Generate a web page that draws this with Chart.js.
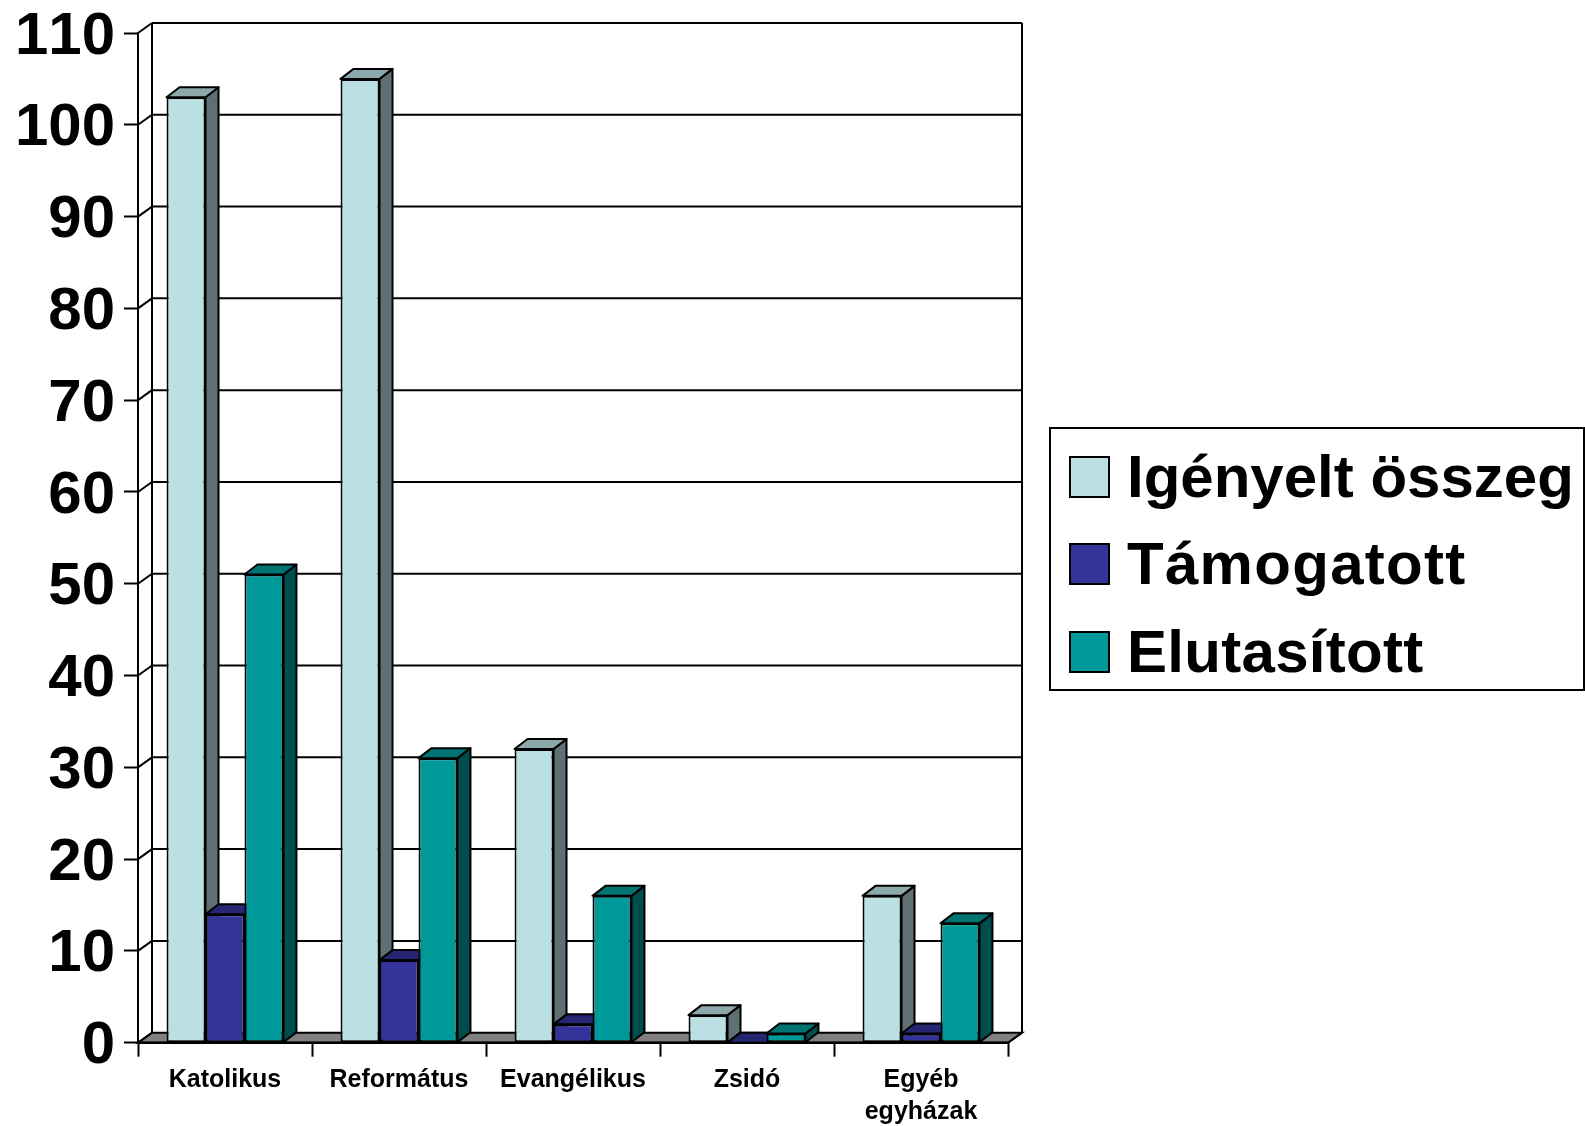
<!DOCTYPE html>
<html>
<head>
<meta charset="utf-8">
<title>Egyházi támogatások</title>
<script src="https://cdn.jsdelivr.net/npm/chart.js@4"></script>
<style>
	body { margin: 0; background: #FFFFFF; }
	canvas { display: block; }
</style>
</head>
<body>
<canvas id="chart" width="1585" height="1126"></canvas>
<script>
const categories = ["Katolikus", "Református", "Evangélikus", "Zsidó", ["Egyéb", "egyházak"]];
const seriesNames = ["Igényelt összeg", "Támogatott", "Elutasított"];
const igenyelt = [103, 105, 32, 3, 16];
const tamogatott = [14, 9, 2, 0, 1];
const elutasitott = [51, 31, 16, 1, 13];

const frontColors = ["#BBE0E3", "#333399", "#009999"];
const topColors = ["#8CA8AA", "#262673", "#007373"];
const sideColors = ["#5E7072", "#1A1A4D", "#004D4D"];

const FONT = "'Liberation Sans', Arial, sans-serif";
const wallDx = 14, wallDy = 10;
const barDx = 13, barDy = 10;

function polygon(ctx, points, fill)
{
	ctx.beginPath();
	points.forEach((p, i) => i === 0 ? ctx.moveTo(p[0], p[1]) : ctx.lineTo(p[0], p[1]));
	ctx.closePath();
	if (fill)
	{
		ctx.fillStyle = fill;
		ctx.fill();
	}
	ctx.stroke();
}

function line(ctx, x1, y1, x2, y2, width)
{
	ctx.lineWidth = width;
	ctx.beginPath();
	ctx.moveTo(x1, y1);
	ctx.lineTo(x2, y2);
	ctx.stroke();
}

// the reference has no kerning in its labels
const noKerning = {
	id: "noKerning",
	beforeDraw(chart)
	{
		chart.ctx.fontKerning = "none";
	}
};

// back wall, left wall and floor, placed from the scales
const walls = {
	id: "walls",
	beforeDatasetsDraw(chart)
	{
		const ctx = chart.ctx;
		const { left, right, top, bottom } = chart.chartArea;
		const yScale = chart.scales.y;
		ctx.save();
		ctx.strokeStyle = "#000000";
		ctx.lineWidth = 2;
		polygon(ctx, [[left, bottom], [right, bottom], [right + wallDx, bottom - wallDy], [left + wallDx, bottom - wallDy]], "#808080");
		yScale.ticks.forEach(tick =>
		{
			const y = yScale.getPixelForValue(tick.value);
			line(ctx, left, y, left + wallDx, y - wallDy, 2);
			if (tick.value > 0)
				line(ctx, left + wallDx, y - wallDy, right + wallDx, y - wallDy, 2);
		});
		line(ctx, left + wallDx, top - wallDy, left + wallDx, bottom - wallDy, 2);
		line(ctx, right + wallDx, top - wallDy, right + wallDx, bottom - wallDy, 2);
		line(ctx, right, bottom, right + wallDx, bottom - wallDy, 2);
		line(ctx, left, bottom, right, bottom, 2.5);
		ctx.restore();
	}
};

// top and side faces of the bars, left to right, under the fronts
const barDepth = {
	id: "barDepth",
	beforeDatasetsDraw(chart)
	{
		const ctx = chart.ctx;
		ctx.save();
		ctx.strokeStyle = "#000000";
		ctx.lineWidth = 2;
		ctx.lineJoin = "round";
		categories.forEach((c, index) =>
		{
			chart.data.datasets.forEach((ds, d) =>
			{
				const bar = chart.getDatasetMeta(d).data[index];
				const xl = bar.x - bar.width / 2;
				const xr = bar.x + bar.width / 2;
				polygon(ctx, [[xr, bar.y], [xr + barDx, bar.y - barDy], [xr + barDx, bar.base - barDy], [xr, bar.base]], sideColors[d]);
				polygon(ctx, [[xl, bar.y], [xl + barDx, bar.y - barDy], [xr + barDx, bar.y - barDy], [xr, bar.y]], topColors[d]);
			});
		});
		ctx.restore();
	}
};

const legendBox = {
	id: "legendBox",
	afterDraw(chart)
	{
		const ctx = chart.ctx;
		const rowTops = [457, 544, 632];
		const rowSpacing = ["0px", "1.3px", "0.3px"];
		ctx.save();
		ctx.strokeStyle = "#000000";
		ctx.lineWidth = 2;
		ctx.strokeRect(1050, 428, 534, 262);
		ctx.font = "bold 60px " + FONT;
		ctx.textBaseline = "alphabetic";
		ctx.textAlign = "left";
		seriesNames.forEach((name, i) =>
		{
			ctx.fillStyle = frontColors[i];
			ctx.fillRect(1070, rowTops[i], 39, 40);
			ctx.strokeRect(1070, rowTops[i], 39, 40);
			ctx.fillStyle = "#000000";
			ctx.letterSpacing = rowSpacing[i];
			ctx.fillText(name, 1127, rowTops[i] + 40);
		});
		ctx.restore();
	}
};

const seriesValues = [igenyelt, tamogatott, elutasitott];

new Chart(document.getElementById("chart"),
{
	type: "bar",
	data:
	{
		labels: categories,
		datasets: seriesNames.map((name, i) => ({
			label: name,
			data: seriesValues[i],
			backgroundColor: frontColors[i],
			borderColor: "#000000",
			borderWidth: 2,
			borderSkipped: false,
			categoryPercentage: 0.672,
			barPercentage: 1
		}))
	},
	plugins: [noKerning, walls, barDepth, legendBox],
	options:
	{
		responsive: false,
		animation: false,
		layout: { padding: { left: 0, top: 33, right: 577, bottom: 0 } },
		plugins:
		{
			legend: { display: false },
			tooltip: { enabled: false }
		},
		scales:
		{
			x:
			{
				afterFit: scale =>
				{
					scale.height = 83.3;
					scale.paddingLeft = 0;
					scale.paddingRight = 0;
				},
				grid: { drawOnChartArea: false, drawTicks: true, tickLength: 14, tickColor: "#000000", tickWidth: 2 },
				border: { display: false },
				ticks:
				{
					color: "#000000",
					maxRotation: 0,
					autoSkip: false,
					padding: 7,
					font: { family: FONT, size: 25, weight: "bold", lineHeight: 1.3 }
				}
			},
			y:
			{
				min: 0,
				max: 110,
				afterFit: scale =>
				{
					scale.width = 138;
					scale.paddingTop = 0;
					scale.paddingBottom = 0;
				},
				grid: { drawOnChartArea: false, drawTicks: true, tickLength: 14, tickColor: "#000000", tickWidth: 2 },
				border: { color: "#000000", width: 2 },
				ticks:
				{
					stepSize: 10,
					color: "#000000",
					padding: 9,
					labelOffset: 4,
					font: { family: FONT, size: 60, weight: "bold" }
				}
			}
		}
	}
});
</script>
</body>
</html>
